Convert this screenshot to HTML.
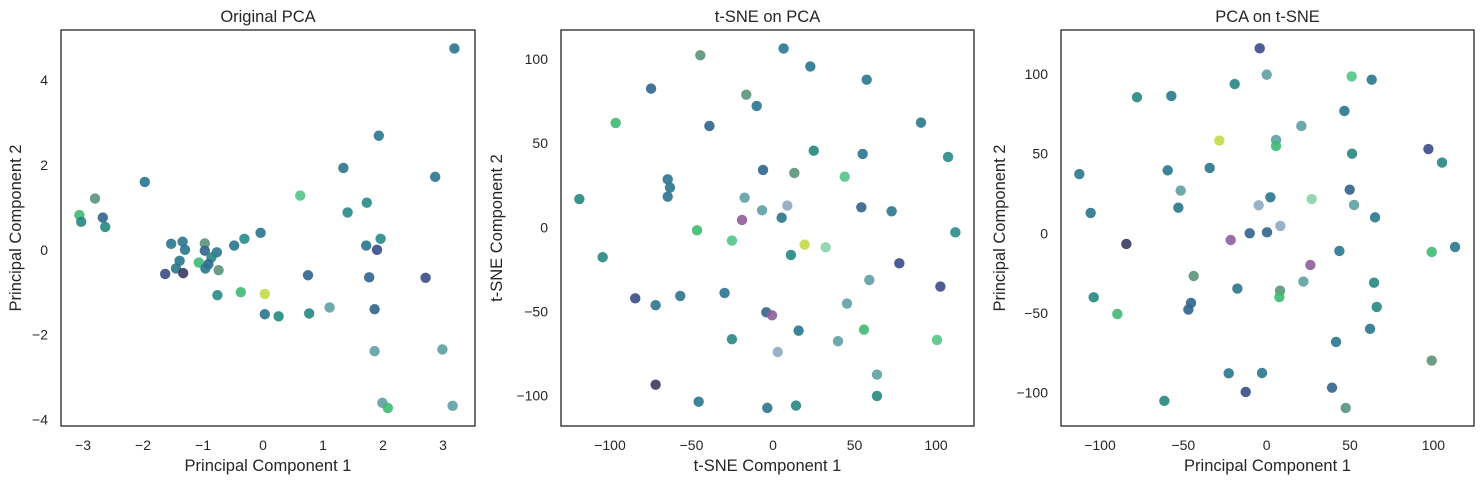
<!DOCTYPE html>
<html><head><meta charset="utf-8"><style>
body{margin:0;background:#fff;}
svg text{font-family:"Liberation Sans",sans-serif;fill:#262626;}
</style></head><body>
<svg id="fig" width="1484" height="484" viewBox="0 0 1484 484" xmlns="http://www.w3.org/2000/svg"></svg>
<script>
const p1x=[3.19,1.93,1.34,2.87,-1.97,0.62,-2.8,1.73,-3.06,-3.03,-2.67,-2.63,1.41,-0.04,-0.31,-0.48,1.96,1.72,1.9,-1.53,-1.34,-1.3,-0.97,-0.97,-0.77,-1.39,-1.45,-1.07,-0.86,-0.91,-0.96,-0.74,-1.63,-1.33,0.75,1.77,2.71,-0.76,-0.37,0.03,1.11,1.86,0.03,0.26,0.77,1.86,2.99,1.99,2.08,3.16];
const p1y=[4.75,2.69,1.93,1.72,1.60,1.28,1.21,1.11,0.82,0.66,0.76,0.54,0.88,0.40,0.26,0.10,0.26,0.10,0.0,0.14,0.19,0.0,0.15,-0.02,-0.06,-0.26,-0.44,-0.30,-0.18,-0.34,-0.44,-0.48,-0.57,-0.55,-0.60,-0.65,-0.66,-1.07,-1.0,-1.04,-1.36,-1.40,-1.52,-1.57,-1.5,-2.39,-2.35,-3.61,-3.73,-3.68];
const p1c="TTTTTLSGNMBMGTGTGTDTTTSBTTTNMBTSDKBBDGNYQBTMMQQQNQ";
const p2x=[6.5,22.9,57.5,-44.6,-74.8,-16.4,-10,-96.5,-39,90.8,25,55,107.4,-6.1,13.1,44,-64.6,-63.2,-64.6,-118.8,-17.4,8.8,-6.7,5.3,-19,54.2,72.8,111.9,-46.6,-25.2,19.4,32.3,11,-104.5,77.5,59.1,102.7,-84.5,-72,-56.9,-29.7,45.4,-4.1,-0.6,15.7,55.8,-25.2,39.9,100.6,2.9,63.8,-72,63.8,-45.6,-3.5,14.1];
const p2y=[106.3,95.6,87.7,102.2,82.4,78.8,72.1,62,60.2,62.2,45.5,43.6,41.8,34.1,32.3,30.1,28.5,23.6,18.2,16.8,17.6,12.9,10.1,5.7,4.4,11.9,9.5,-3,-1.8,-7.9,-10.3,-11.9,-16.4,-17.8,-21.4,-31.3,-35.2,-42.2,-46.3,-40.8,-39,-45.3,-50.5,-52.3,-61.4,-60.8,-66.5,-67.7,-66.9,-74.1,-87.5,-93.5,-100.2,-103.6,-107.3,-105.9];
const p2c="TTTSBSTNBTMTGBSLTTTMQWQTPBTGNLYFMMDQDDTTTQBPTNMQLWQKMTTM";
const p3x=[-4.2,0,51,63,-19.2,-77.8,-57.2,46.6,20.8,-28.4,5.6,5.6,51.2,97,105.2,-112.4,-59.4,-34.2,-51.6,49.8,27,2.2,-4.8,52.4,-53,-105.6,65,8.2,-10.2,0.2,-21.6,-84.2,43.6,99,113,26.2,-43.8,22,64.4,-17.6,8,7.6,-103.8,-45.4,-47,-89.6,66,62,41.6,99,-22.8,-2.8,-12.6,39.2,-61.4,47.4];
const p3y=[116.1,99.6,98.5,96.4,93.7,85.4,86.2,76.8,67.4,58.2,58.6,54.8,50,52.9,44.4,37.2,39.5,41,26.8,27.4,21.5,22.6,17.6,17.8,16.1,12.8,10,4.6,0,0.6,-4.2,-6.7,-11.1,-11.7,-8.6,-19.9,-26.8,-30.3,-31,-34.7,-36,-40,-40.2,-43.7,-47.9,-50.6,-46.2,-60,-68.2,-79.9,-87.9,-87.7,-99.6,-96.9,-105.2,-109.6];
const p3c="DQLTMMTTQYQNMDMTTTQBFTWQTTTWBBPKTNTPSQMTSNMBBNMTTSTTDBMS";
const xt1=[-3,-2,-1,0,1,2,3], yt1=[-4,-2,0,2,4];
const xt2=[-100,-50,0,50,100], yt2=[-100,-50,0,50,100];
const xt3=[-100,-50,0,50,100], yt3=[-100,-50,0,50,100];
const COL={T:"#2a768e",G:"#278b8a",B:"#31648d",D:"#3a4a86",K:"#3a3a62",N:"#3dba72",L:"#52c485",Y:"#c3dc4a",S:"#5b9379",P:"#8c5e9c",Q:"#5ea0a4",W:"#8eaac2",F:"#88d4ab",M:"#25877f"};
const NS="http://www.w3.org/2000/svg";
const svg=document.getElementById('fig');
function mk(tag,attrs,parent){const e=document.createElementNS(NS,tag);for(const k in attrs)e.setAttribute(k,attrs[k]);(parent||svg).appendChild(e);return e;}
function panel(name,box,xd,yd,xs,ys,xt,yt,cs,title,xl,yl,ylx){
  const g=mk('g',{});
  
  
  const [L,T,R,B]=box;
  const sx=v=>L+(v-xd[0])/(xd[1]-xd[0])*(R-L);
  const sy=v=>B-(v-yd[0])/(yd[1]-yd[0])*(B-T);
  for(let i=0;i<xs.length;i++){
    const c=mk('circle',{cx:sx(xs[i]),cy:sy(ys[i]),r:5.2,fill:COL[cs[i]]||"#2a768e","fill-opacity":0.9},g);
    
    
  }
  const fr=mk('rect',{x:L,y:T,width:R-L,height:B-T,fill:'none',stroke:'#333',"stroke-width":1.4},g);
  
  
  xt.forEach(v=>{const t=mk('text',{x:sx(v),y:B+24,"text-anchor":"middle","font-size":14},g);t.textContent=String(v).replace('-','\u2212');
    
    });
  yt.forEach(v=>{const t=mk('text',{x:L-13,y:sy(v)+5,"text-anchor":"end","font-size":14},g);t.textContent=String(v).replace('-','\u2212');
    
    });
  const tt=mk('text',{x:(L+R)/2,y:T-8,"text-anchor":"middle","font-size":16.5},g);tt.textContent=title;
  
  
  const xa=mk('text',{x:(L+R)/2,y:B+45,"text-anchor":"middle","font-size":16.5},g);xa.textContent=xl;
  
  
  const ya=mk('text',{x:0,y:0,"text-anchor":"middle","font-size":16.5,transform:`translate(${ylx},${(T+B)/2}) rotate(-90)`},g);ya.textContent=yl;
  
  
}
panel('panel-original-pca',[61,30,475,426],[(61-263)/60,(475-263)/60],[(249.8-426)/42.4,(249.8-30)/42.4],p1x,p1y,xt1,yt1,p1c,'Original PCA','Principal Component 1','Principal Component 2',21);
panel('panel-tsne-on-pca',[561,30,974,426],[(561-773)/1.63,(974-773)/1.63],[(227.3-426)/1.683,(227.3-30)/1.683],p2x,p2y,xt2,yt2,p2c,'t-SNE on PCA','t-SNE Component 1','t-SNE Component 2',502);
panel('panel-pca-on-tsne',[1061,30,1474,426],[(1061-1266.7)/1.667,(1474-1266.7)/1.667],[(233.3-426)/1.593,(233.3-30)/1.593],p3x,p3y,xt3,yt3,p3c,'PCA on t-SNE','Principal Component 1','Principal Component 2',1005);
</script>
</body></html>
